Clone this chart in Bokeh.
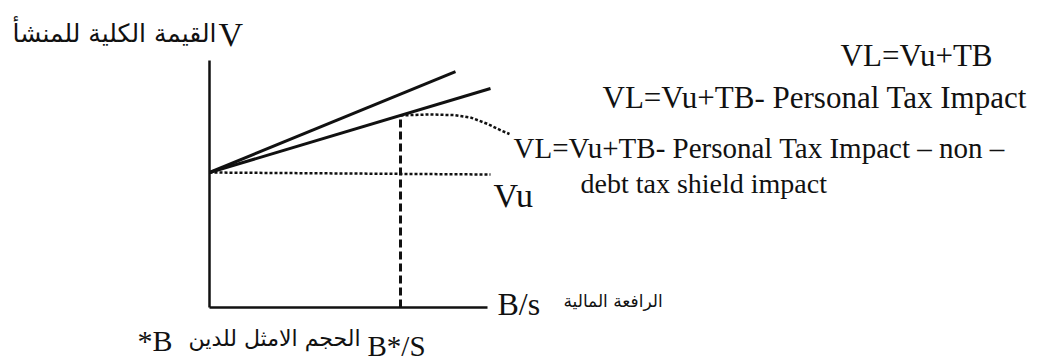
from bokeh.plotting import figure
from bokeh.models import Range1d
from bokeh.core.properties import value
from bokeh.embed import file_html
from bokeh.resources import INLINE

# --- Diagram values (leverage B/S on x, firm value V on y; Vu normalised to 1) ---
vu_level = 1.0
leverage_max = 2.81          # right end of the value lines
leverage_tb_end = 2.46       # right end of the VL = Vu + TB line
vl_tb_end = 1.748            # VL = Vu + TB at its right end
vl_personal_end = 1.622      # VL = Vu + TB - personal tax impact at leverage_max
optimal_leverage = 1.91      # B*/S

# value line once non-debt tax shields are taken into account (beyond B*/S)
curve_leverage = [1.91, 2.20, 2.45, 2.62, 2.78, 2.92, 3.00]
curve_value = [1.423, 1.430, 1.425, 1.405, 1.360, 1.310, 1.285]

# axis extents
value_axis_top = 1.83
leverage_axis_end = 2.78

# --- Text labels ---
title_ar = "القيمة الكلية للمنشأ"
title_v = "V"
label_tb = "VL=Vu+TB"
label_personal = "VL=Vu+TB- Personal Tax Impact"
label_nondebt_1 = "VL=Vu+TB- Personal Tax Impact – non –"
label_nondebt_2 = "debt tax shield impact"
label_vu = "Vu"
label_bs = "B/s"
label_bs_ar = "الرافعة المالية"
label_opt = "B*/S"
label_opt_ar = "الحجم الامثل للدين"
label_opt_b = "*B"

# --- Canvas scaling ---
W, H = 1054, 362
XS, YS = 100.0, 135.0        # pixels per unit
ox, oy = 209.0, 307.0        # pixel position of the origin

p = figure(width=W, height=H,
           x_range=Range1d(-ox / XS, (W - ox) / XS),
           y_range=Range1d((oy - H) / YS, oy / YS),
           x_axis_type=None, y_axis_type=None,
           output_backend="svg", toolbar_location=None, min_border=0)
p.grid.visible = False
p.outline_line_color = None
p.background_fill_color = "white"
p.border_fill_color = "white"

ink = "#111111"
serif = value("Liberation Serif")
arabic = value("DejaVu Sans")

# axes
p.line([0, 0], [0, value_axis_top], line_color=ink, line_width=2.5)
p.line([0, leverage_axis_end], [0, 0], line_color=ink, line_width=2.5)

# Vu (unlevered) dotted line
p.line([0, leverage_max], [vu_level, vu_level * 0.985], line_color=ink,
       line_width=2.5, line_dash="3 2")

# VL = Vu + TB
p.line([0, leverage_tb_end], [vu_level, vl_tb_end], line_color=ink, line_width=3)

# VL = Vu + TB - personal tax impact
p.line([0, leverage_max], [vu_level, vl_personal_end], line_color=ink, line_width=3)

# value at the optimum on the personal-tax line
v_opt = vu_level + (vl_personal_end - vu_level) / leverage_max * optimal_leverage
p.line([optimal_leverage, optimal_leverage], [0, v_opt], line_color=ink,
       line_width=3, line_dash="8 4")

# curve beyond the optimum
p.line(curve_leverage, curve_value, line_color=ink, line_width=2.5, line_dash="3 2")

# --- Labels ---
def px(xp):
    return (xp - ox) / XS

def py(yp):
    return (oy - yp) / YS

p.text([px(216)], [py(33)], text=[title_ar], text_font=arabic, text_font_size="25px",
       text_align="right", text_baseline="alphabetic", text_color=ink)
p.text([px(218)], [py(34)], text=[title_v], text_font=serif, text_font_size="34px",
       text_align="left", text_baseline="alphabetic", text_color=ink)

p.text([px(992)], [py(55)], text=[label_tb], text_font=serif, text_font_size="31px",
       text_align="right", text_baseline="alphabetic", text_color=ink)
p.text([px(602)], [py(97)], text=[label_personal], text_font=serif, text_font_size="31px",
       text_align="left", text_baseline="alphabetic", text_color=ink)
p.text([px(513)], [py(147)], text=[label_nondebt_1], text_font=serif, text_font_size="29px",
       text_align="left", text_baseline="alphabetic", text_color=ink)
p.text([px(580)], [py(183)], text=[label_nondebt_2], text_font=serif, text_font_size="28px",
       text_align="left", text_baseline="alphabetic", text_color=ink)

p.text([leverage_max + 0.03], [py(195)], text=[label_vu], text_font=serif,
       text_font_size="34px", text_align="left", text_baseline="alphabetic", text_color=ink)

p.text([px(497)], [py(303)], text=[label_bs], text_font=serif, text_font_size="32px",
       text_align="left", text_baseline="alphabetic", text_color=ink)
p.text([px(563)], [py(300)], text=[label_bs_ar], text_font=arabic, text_font_size="17px",
       text_align="left", text_baseline="alphabetic", text_color=ink)

p.text([px(367)], [py(345)], text=[label_opt], text_font=serif, text_font_size="29px",
       text_align="left", text_baseline="alphabetic", text_color=ink)
p.text([px(360)], [py(338)], text=[label_opt_ar], text_font=arabic, text_font_size="22px",
       text_align="right", text_baseline="alphabetic", text_color=ink)
p.text([px(172)], [py(340)], text=[label_opt_b], text_font=serif, text_font_size="30px",
       text_align="right", text_baseline="alphabetic", text_color=ink)

open("out.html", "w").write(file_html(p, INLINE))
